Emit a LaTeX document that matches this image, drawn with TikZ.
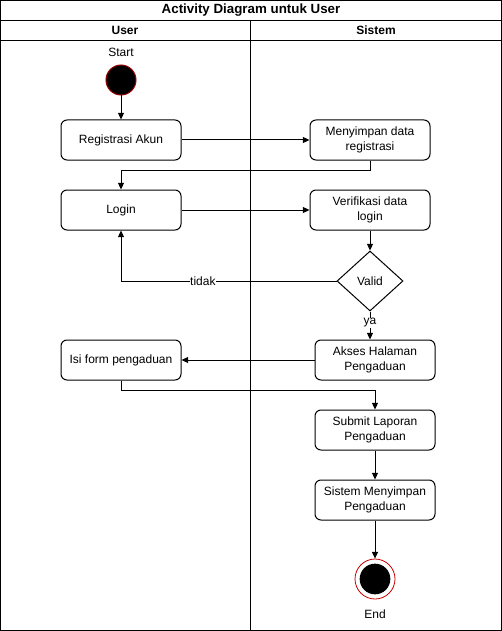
\documentclass[tikz,border=0pt]{standalone}
\usepackage{fontspec}
\setmainfont{Liberation Sans}
\usetikzlibrary{shapes.geometric,arrows.meta}
\begin{document}
\begin{tikzpicture}[x=0.75pt,y=-0.75pt,
  every node/.style={font=\fontsize{9}{11}\selectfont},
  act/.style={draw,rounded corners=4.5pt,minimum width=90pt,minimum height=30pt,align=center,line width=0.75pt,inner sep=0pt},
  flow/.style={draw,line width=0.75pt,-{Triangle[length=5pt,width=4.5pt]}},
  lane/.style={draw,line width=0.75pt}]
\useasboundingbox (0,0) rectangle (502,631);
% swimlane frame
\draw[lane] (0.5,0.5) rectangle (501,630);
\draw[lane] (0.5,20.5) -- (501,20.5);
\draw[lane] (0.5,40.5) -- (501,40.5);
\draw[lane] (250.5,20.5) -- (250.5,630);
\node[font=\fontsize{10}{12}\selectfont\bfseries] (title) at (251,10) {Activity Diagram untuk User};
\node[font=\fontsize{9}{11}\selectfont\bfseries] (hu) at (125,30) {User};
\node[font=\fontsize{9}{11}\selectfont\bfseries] (hs) at (376,30) {Sistem};
% start
\node (startlbl) at (121,52) {Start};
\node[circle,fill=black,draw=red!60!black,line width=0.75pt,minimum size=22.5pt,inner sep=0pt] (start) at (121,80) {};
% activities
\node[act] (reg) at (121,140) {Registrasi Akun};
\node[act] (simpan) at (370,140) {Menyimpan data\\registrasi};
\node[act] (login) at (121,210) {Login};
\node[act] (verif) at (370,210) {Verifikasi data\\login};
\node[diamond,draw,line width=0.75pt,minimum width=49.5pt,minimum height=45pt,inner sep=0pt] (valid) at (370,281) {Valid};
\node[act] (akses) at (375,360) {Akses Halaman\\Pengaduan};
\node[act] (isi) at (121,360) {Isi form pengaduan};
\node[act] (submit) at (375,430) {Submit Laporan\\Pengaduan};
\node[act] (sysimpan) at (375,500) {Sistem Menyimpan\\Pengaduan};
% end
\node[circle,draw=red!80!black,line width=0.6pt,fill=white,minimum size=30pt,inner sep=0pt] (end) at (375,579) {};
\node[circle,fill=black,minimum size=23pt,inner sep=0pt] (endin) at (end) {};
\node (endlbl) at (375,614) {End};
% flows
\draw[flow] (start) -- (reg);
\draw[flow] (reg) -- (simpan);
\draw[flow] (simpan.south) |- (121,170) -- (login.north);
\draw[flow] (login) -- (verif);
\draw[flow] (verif) -- (valid);
\draw[flow] (valid.west) -| (login.south) node[pos=0.31,fill=white,inner sep=0.5pt] {tidak};
\draw[flow] (valid.south) -- (akses.north -| valid.south) node[pos=0.4,fill=white,inner sep=0.5pt] {ya};
\draw[flow] (akses) -- (isi);
\draw[flow] (isi.south) |- (375,390) -- (submit.north);
\draw[flow] (submit) -- (sysimpan);
\draw[flow] (sysimpan) -- (end);
\end{tikzpicture}
\end{document}
